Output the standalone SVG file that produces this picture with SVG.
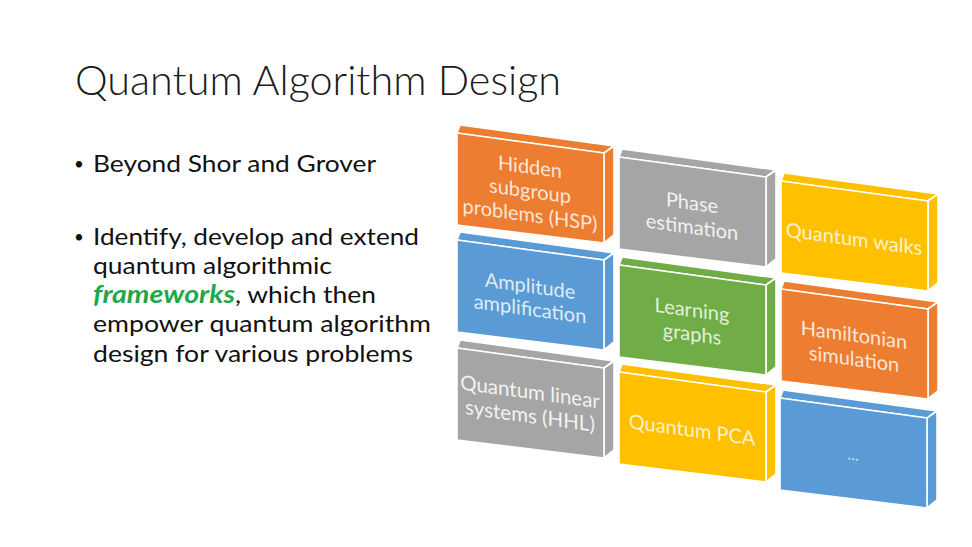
<svg xmlns="http://www.w3.org/2000/svg" xmlns:xlink="http://www.w3.org/1999/xlink" width="972" height="547" viewBox="0 0 972 547">
<style>
.title{font-family:Lato,"Liberation Sans",sans-serif;font-weight:300;font-size:42px;fill:#1a1a1a}
.bul{font-family:Lato,"Liberation Sans",sans-serif;font-size:24px;fill:#111}
.dot{font-family:Lato,"Liberation Sans",sans-serif;font-size:17px;fill:#111}
.fw{font-family:Lato,"Liberation Sans",sans-serif;font-size:24px;font-weight:bold;font-style:italic;fill:#1FA84A}
.face{stroke:#fff;stroke-width:1.6;stroke-linejoin:round}
.lbl{font-family:Lato,"Liberation Sans",sans-serif;font-size:20px;text-anchor:middle}
</style>
<defs>
<g id="box">
<path class="face" d="M0,0 L3,-8.4 L157,-8.4 L147,0 Z"/>
<path class="face" d="M147,0 L157,-8.4 L157,80.6 L147,90 Z"/>
<path class="face" d="M0,0 H147 V90 L0,92 Z"/>
</g>
</defs>
<rect width="972" height="547" fill="#fff"/>
<text class="title" x="75" y="95" textLength="486" lengthAdjust="spacingAndGlyphs">Quantum Algorithm Design</text>
<g id="bullets">
<text class="dot" x="74" y="170">•</text>
<text class="bul" x="93" y="172" textLength="283" lengthAdjust="spacingAndGlyphs">Beyond Shor and Grover</text>
<text class="dot" x="74" y="243">•</text>
<text class="bul" x="93" y="245" textLength="326" lengthAdjust="spacingAndGlyphs">Identify, develop and extend</text>
<text class="bul" x="93" y="274" textLength="239" lengthAdjust="spacingAndGlyphs">quantum algorithmic</text>
<text class="fw" x="93" y="303" textLength="142" lengthAdjust="spacingAndGlyphs">frameworks</text>
<text class="bul" x="235" y="303" textLength="141" lengthAdjust="spacingAndGlyphs">, which then</text>
<text class="bul" x="93" y="332" textLength="338" lengthAdjust="spacingAndGlyphs">empower quantum algorithm</text>
<text class="bul" x="93" y="362" textLength="320" lengthAdjust="spacingAndGlyphs">design for various problems</text>
</g>
<g id="hsp" transform="translate(457,133) skewY(7.75)">
<use href="#box" fill="#ED7D31"/>
<text class="lbl" fill="#FBE5D6"><tspan x="73" y="31">Hidden</tspan><tspan x="73" y="55">subgroup</tspan><tspan x="73" y="79">problems (HSP)</tspan></text>
</g>
<g id="phase" transform="translate(619,157) skewY(7.75)">
<use href="#box" fill="#A5A5A5"/>
<text class="lbl" fill="#F2F2F2"><tspan x="73" y="43">Phase</tspan><tspan x="73" y="67">estimation</tspan></text>
</g>
<g id="walks" transform="translate(781,181) skewY(7.75)">
<use href="#box" fill="#FFC000"/>
<text class="lbl" fill="#FFF2CC"><tspan x="73" y="55">Quantum walks</tspan></text>
</g>
<g id="amp" transform="translate(457,240) skewY(7.75)">
<use href="#box" fill="#5B9BD5"/>
<text class="lbl" fill="#DEEBF7"><tspan x="73" y="43">Amplitude</tspan><tspan x="73" y="66">amplification</tspan></text>
</g>
<g id="learn" transform="translate(619,265) skewY(7.75)">
<use href="#box" fill="#70AD47"/>
<text class="lbl" fill="#E2F0D9"><tspan x="73" y="42">Learning</tspan><tspan x="73" y="66">graphs</tspan></text>
</g>
<g id="ham" transform="translate(781,289) skewY(7.75)">
<use href="#box" fill="#ED7D31"/>
<text class="lbl" fill="#FBE5D6"><tspan x="73" y="43">Hamiltonian</tspan><tspan x="73" y="67">simulation</tspan></text>
</g>
<g id="hhl" transform="translate(457,348) skewY(7.75)">
<use href="#box" fill="#A5A5A5"/>
<text class="lbl" fill="#F2F2F2" style="font-size:20.5px"><tspan x="73" y="41">Quantum linear</tspan><tspan x="73" y="65">systems (HHL)</tspan></text>
</g>
<g id="pca" transform="translate(619,372) skewY(7.75)">
<use href="#box" fill="#FFC000"/>
<text class="lbl" fill="#FFF2CC"><tspan x="73" y="55">Quantum PCA</tspan></text>
</g>
<g id="more" transform="translate(780,398) skewY(7.75)">
<use href="#box" fill="#5B9BD5"/>
<text class="lbl" fill="#DEEBF7" style="font-size:15px"><tspan x="73" y="52">…</tspan></text>
</g>
</svg>
